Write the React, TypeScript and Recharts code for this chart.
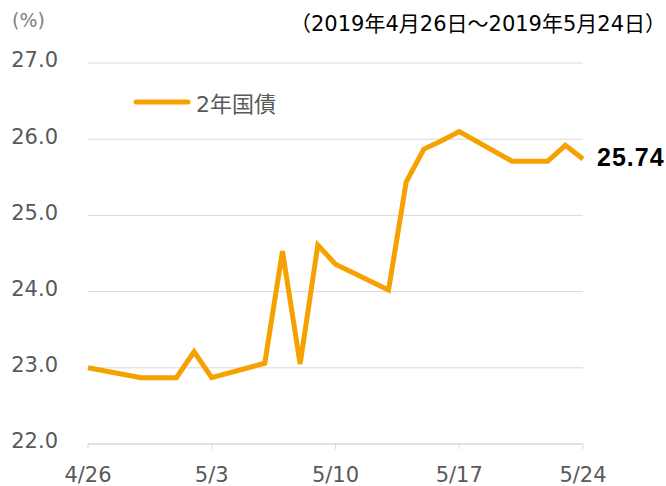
import React from 'react';
import { LineChart, Line, XAxis, YAxis, CartesianGrid } from 'recharts';

const dates = [
  '4/26', '4/29', '4/30', '5/1', '5/2', '5/3', '5/6', '5/7', '5/8', '5/9', '5/10',
  '5/13', '5/14', '5/15', '5/16', '5/17', '5/20', '5/21', '5/22', '5/23', '5/24',
];
const yields2y = [
  23.0, 22.87, 22.87, 22.87, 23.21, 22.87, 23.06, 24.53, 23.05, 24.61, 24.36,
  24.02, 25.44, 25.87, 25.98, 26.1, 25.71, 25.71, 25.71, 25.92, 25.74,
];
const xTicks = ['4/26', '5/3', '5/10', '5/17', '5/24'];
const yTicks = [22, 23, 24, 25, 26, 27];

const FONT = '"DejaVu Sans", "Noto Sans CJK JP", sans-serif';
const ORANGE = '#F5A200';

const dayOf = (s: string) => {
  const [m, d] = s.split('/').map(Number);
  return (Date.UTC(2019, m - 1, d) - Date.UTC(2019, 3, 26)) / 86400000;
};

const data = dates.map((d, i) => ({ day: dayOf(d), label: d, value: yields2y[i] }));

const LastLabel = (props: any) => {
  const { x, y, index } = props;
  if (index !== data.length - 1) return null;
  return (
    <text x={x + 14} y={y + 7} fontSize={25} fontWeight="bold" fill="#000"
      fontFamily='"Liberation Sans", Arial, sans-serif' letterSpacing={1}>
      {yields2y[index].toFixed(2)}
    </text>
  );
};

export default function App() {
  return (
    <div style={{ position: 'absolute', left: 0, top: 0, width: 666, height: 486, background: '#fff' }}>
      <div style={{ position: 'absolute', left: 12, top: 9, fontSize: 19, color: '#7f7f7f', fontFamily: FONT }}>(%)</div>
      <div style={{ position: 'absolute', left: 290, top: 7, fontSize: 21, color: '#000', fontFamily: FONT, whiteSpace: 'nowrap' }}>
        （2019年4月26日～2019年5月24日）
      </div>
      <div style={{ position: 'absolute', left: 132, top: 86, display: 'flex', alignItems: 'center', fontFamily: FONT }}>
        <svg width={60} height={10}>
          <line x1={4} y1={5} x2={56} y2={5} stroke={ORANGE} strokeWidth={5} strokeLinecap="round" />
        </svg>
        <span style={{ fontSize: 22, color: '#595959', marginLeft: 4 }}>2年国債</span>
      </div>
      <LineChart width={666} height={486} data={data} margin={{ top: 63, right: 83, bottom: 0, left: 8 }}>
        <CartesianGrid vertical={false} stroke="#d9d9d9" />
        <XAxis
          dataKey="day"
          type="number"
          domain={[0, 28]}
          ticks={xTicks.map(dayOf)}
          tickFormatter={(v: number) => xTicks[xTicks.map(dayOf).indexOf(v)]}
          stroke="#d9d9d9"
          tickSize={5}
          tickMargin={18}
          height={42}
          tick={{ fill: '#595959', fontSize: 21, fontFamily: FONT }}
        />
        <YAxis
          domain={[22, 27]}
          ticks={yTicks}
          tickFormatter={(v: number) => v.toFixed(1)}
          axisLine={false}
          tickLine={false}
          tickSize={0}
          tickMargin={30}
          width={80}
          tick={{ fill: '#595959', fontSize: 21, fontFamily: FONT, dy: -3 }}
        />
        <Line
          type="linear"
          dataKey="value"
          stroke={ORANGE}
          strokeWidth={5}
          dot={false}
          activeDot={false}
          label={<LastLabel />}
          isAnimationActive={false}
        />
      </LineChart>
    </div>
  );
}
